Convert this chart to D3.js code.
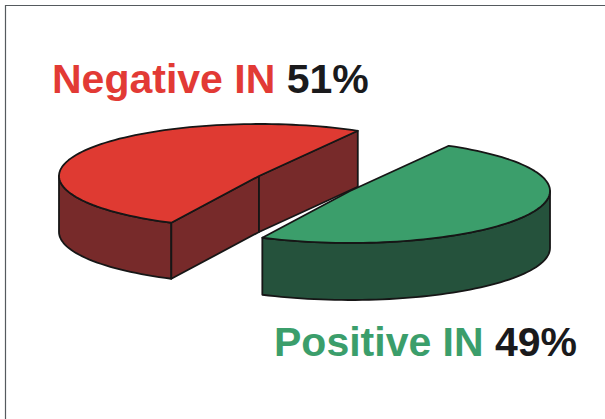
<!DOCTYPE html>
<html>
<head>
<meta charset="utf-8">
<script src="https://cdn.jsdelivr.net/npm/d3@7"></script>
<style>
html,body{margin:0;padding:0;background:#fff;overflow:hidden}
svg{display:block}
text{font-family:"Liberation Sans",Arial,sans-serif;font-weight:700}
</style>
</head>
<body>
<svg id="chart" width="605" height="419"></svg>
<script>
const categories = ["Negative IN", "Positive IN"];
const shares = [51, 49];
const topColors = ["#df3a32", "#3b9e6b"];
const wallColors = ["#772a2a", "#25523c"];
const labelColors = ["#e23a35", "#3b9e6b"];

const svg = d3.select("#chart");
const deg = Math.PI / 180;

// Frame: only the top and left rules are drawn
svg.append("path")
  .attr("d", "M5.5,419V5.5H605")
  .attr("fill", "none").attr("stroke", "#555a5e").attr("stroke-width", 1.2);

// Slice angles run clockwise from twelve o'clock, as d3.pie gives them
const pie = d3.pie().sort(null).startAngle(206 * deg).endAngle((206 + 360) * deg);
const arcs = pie(shares);

// Each slice is pulled away from the other, so each has its own centre
const slices = [
  { cx: 259, cy: 176, rx: 200, ry: 52, depth: 56 },
  { cx: 350, cy: 191, rx: 200, ry: 52, depth: 57 }
];

const line = d3.line();

function rim(s, a0, a1, drop) {
  const n = Math.max(2, Math.ceil(Math.abs(a1 - a0) / (2 * deg)));
  return d3.range(n + 1).map(i => {
    const a = a0 + (a1 - a0) * i / n;
    return [s.cx + s.rx * Math.sin(a), s.cy - s.ry * Math.cos(a) + drop];
  });
}

function drawSlice(arc, i) {
  const s = slices[i];
  const g = svg.append("g")
    .attr("stroke", "#161616").attr("stroke-width", 1.8).attr("stroke-linejoin", "round");
  const fullTurn = 2 * Math.PI;
  const a0 = arc.startAngle, a1 = arc.endAngle;

  // Curved wall: the part of the rim on the near half of the ellipse
  const lo = Math.PI / 2, hi = 3 * Math.PI / 2;
  [0, 1].forEach(k => {
    const from = Math.max(a0, lo + k * fullTurn);
    const to = Math.min(a1, hi + k * fullTurn);
    if (to > from) {
      const upper = rim(s, from, to, 0);
      const lower = rim(s, to, from, s.depth);
      g.append("path").attr("d", line(upper.concat(lower)) + "Z").attr("fill", wallColors[i]);
    }
  });

  // Flat cut faces, present only when they turn toward the viewer
  if (i === 0) {
    const c = [s.cx, s.cy];
    const pA = rim(s, a0, a0, 0)[0];
    const pB = rim(s, a1, a1, 0)[0];
    const down = p => [p[0], p[1] + s.depth];
    g.append("path").attr("d", line([pA, c, down(c), down(pA)]) + "Z").attr("fill", wallColors[i]);
    g.append("path").attr("d", line([c, pB, down(pB), down(c)]) + "Z").attr("fill", wallColors[i]);
  }

  // Top surface
  g.append("path")
    .attr("d", line([[s.cx, s.cy]].concat(rim(s, a0, a1, 0))) + "Z")
    .attr("fill", topColors[i]);
}

arcs.forEach(drawSlice);

// Labels: coloured category name followed by the share in near-black
const labelPos = [{ x: 52, y: 93 }, { x: 274, y: 356 }];
categories.forEach((name, i) => {
  const t = svg.append("text")
    .attr("x", labelPos[i].x).attr("y", labelPos[i].y)
    .attr("font-size", 41);
  t.append("tspan").attr("fill", labelColors[i]).text(name + " ");
  t.append("tspan").attr("fill", "#1a1a1c").text(shares[i] + "%");
});
</script>
</body>
</html>
